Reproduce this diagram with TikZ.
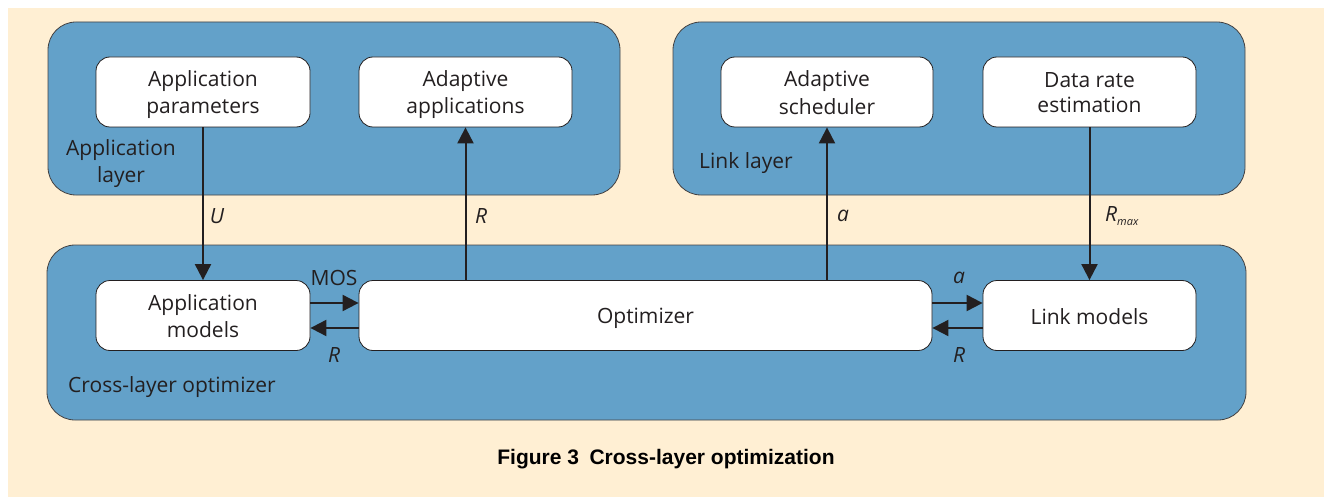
\documentclass[tikz,border=0pt]{standalone}
\usepackage{fontspec}
\setmainfont{Open Sans}
\newfontfamily\capfont{Liberation Sans}
\usetikzlibrary{arrows.meta}
\definecolor{beige}{RGB}{255,239,211}
\definecolor{layerblue}{RGB}{99,161,201}
\definecolor{ink}{RGB}{35,31,32}
\newcommand{\ustrut}{\rule[-4pt]{0pt}{25pt}}
\newcommand{\twoln}[2]{\ustrut #1\\\ustrut #2}
\begin{document}
\begin{tikzpicture}[x=1pt,y=-1pt,
  layer/.style={draw=ink!85, line width=0.8pt, fill=layerblue, rounded corners=28pt, inner sep=0pt},
  unit/.style={draw=ink, line width=0.8pt, fill=white, rounded corners=14pt, align=center,
    font=\fontsize{21}{25}\selectfont, text=ink, inner sep=0pt},
  flow/.style={draw=ink, line width=2pt, -{Triangle[length=16pt,width=16pt]}},
  lbl/.style={text=ink, font=\fontsize{21}{25}\selectfont\itshape, inner sep=0pt},
  title/.style={text=ink, font=\fontsize{21}{25}\selectfont, align=center, inner sep=0pt}
]
\useasboundingbox (0,0) rectangle (1324,497);
\fill[beige] (8,8) rectangle (1324,497);

% layers
\node[layer, minimum width=572pt, minimum height=173pt] (applayer) at (334,108.5) {};
\node[layer, minimum width=572pt, minimum height=173pt] (linklayer) at (959,108.5) {};
\node[layer, minimum width=1199pt, minimum height=175pt] (crosslayer) at (646.5,332.5) {};

% layer titles
\node[title] (applayertxt) at (121,161) {\twoln{Application}{layer}};
\node[title, anchor=base west] (linklayertxt) at (699,169) {Link layer};
\node[title, anchor=base west] (crosstxt) at (68,392) {Cross-layer optimizer};

% units
\node[unit, minimum width=214pt, minimum height=70pt] (appparam) at (203,92) {\twoln{Application}{parameters}};
\node[unit, minimum width=213pt, minimum height=70pt] (adaptapp) at (465.5,92) {\twoln{Adaptive}{applications}};
\node[unit, minimum width=212pt, minimum height=70pt] (sched) at (827,92) {\twoln{Adaptive}{scheduler}};
\node[unit, minimum width=213pt, minimum height=70pt] (rateest) at (1089.5,92) {\twoln{Data rate}{estimation}};
\node[unit, minimum width=214pt, minimum height=70pt] (appmodels) at (203,315.5) {\twoln{Application}{models}};
\node[unit, minimum width=573pt, minimum height=70pt] (optim) at (645.5,315.5) {\ustrut Optimizer};
\node[unit, minimum width=213pt, minimum height=70pt] (linkmodels) at (1089.5,315.5) {\ustrut Link models};

% vertical connectors
\draw[flow] (appparam.south) -- (appmodels.north);
\draw[flow] (optim.north -| adaptapp.south) -- (adaptapp.south);
\draw[flow] (optim.north -| sched.south) -- (sched.south);
\draw[flow] (rateest.south) -- (linkmodels.north);

% horizontal connectors
\draw[flow] ([yshift=12.5pt]appmodels.east) -- ([yshift=12.5pt]optim.west);
\draw[flow] ([yshift=-12.5pt]optim.west) -- ([yshift=-12.5pt]appmodels.east);
\draw[flow] ([yshift=12.5pt]optim.east) -- ([yshift=12.5pt]linkmodels.west);
\draw[flow] ([yshift=-12.5pt]linkmodels.west) -- ([yshift=-12.5pt]optim.east);

% labels
\node[lbl] (lU) at (217,216) {U};
\node[lbl] (lR1) at (481,216) {R};
\node[lbl] (la1) at (843,216) {a};
\node[lbl, anchor=base west] (lRmax) at (1105,222) {R\raisebox{-3pt}{\fontsize{11}{11}\selectfont max}};
\node[lbl, font=\fontsize{21}{25}\selectfont] (lMOS) at (334,278) {MOS};
\node[lbl] (lR2) at (334,355) {R};
\node[lbl] (la2) at (959,278) {a};
\node[lbl] (lR3) at (959,355) {R};

% caption
\node[text=black, font=\capfont\bfseries\fontsize{21}{25}\selectfont, inner sep=0pt] (caption) at (666,459) {Figure 3\hspace{0.5em}Cross-layer optimization};
\end{tikzpicture}
\end{document}
